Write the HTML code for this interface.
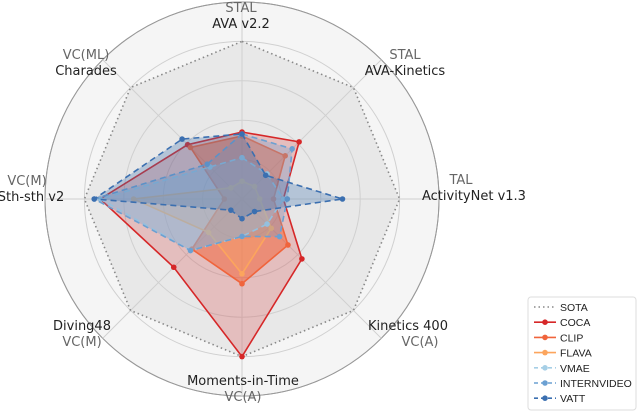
<!DOCTYPE html>
<html><head><meta charset="utf-8"><style>
body{margin:0;background:#fff;width:640px;height:413px;overflow:hidden;font-family:"Liberation Sans","DejaVu Sans",sans-serif}
</style></head><body>
<svg id="chart" width="640" height="413" viewBox="0 0 640 413" xmlns="http://www.w3.org/2000/svg" font-family="DejaVu Sans, Liberation Sans, sans-serif"></svg>
<script>
const categories=["AVA v2.2","AVA-Kinetics","ActivityNet v1.3","Kinetics 400","Moments-in-Time","Diving48","Sth-sth v2","Charades"];
const tasks=["STAL","STAL","TAL","VC(A)","VC(A)","VC(M)","VC(M)","VC(ML)"];
const seriesNames=["SOTA","COCA","CLIP","FLAVA","VMAE","INTERNVIDEO","VATT"];
const sota=[0.8,0.8,0.8,0.8,0.8,0.8,0.8,0.8];
const coca=[0.34,0.41,0.21,0.43,0.8,0.49,0.72,0.39];
const clip=[0.32,0.31,0.16,0.33,0.43,0.36,0.09,0.37];
const flava=[0.09,0.09,0.09,0.21,0.38,0.24,0.55,0.08];
const vmae=[0.21,0.18,0.21,0.18,0.19,0.37,0.72,0.23];
const internvideo=[0.33,0.36,0.23,0.27,0.19,0.37,0.75,0.25];
const vatt=[0.33,0.17,0.51,0.09,0.1,0.08,0.75,0.43];
const ringTicks=[0.2,0.4,0.6,0.8,1.0];

const NS="http://www.w3.org/2000/svg";
const svg=document.getElementById('chart');
const cx=242,cy=199,R=197;
function ang(i){return -Math.PI/2+i*2*Math.PI/categories.length;}
function px(i,v){return [cx+R*v*Math.cos(ang(i)),cy+R*v*Math.sin(ang(i))];}
function mk(tag,attrs){const e=document.createElementNS(NS,tag);for(const k in attrs)e.setAttribute(k,attrs[k]);svg.appendChild(e);return e;}
let bg=mk('circle',{cx:cx,cy:cy,r:R,fill:'#f5f5f5',stroke:'#999','stroke-width':1});


const styles=[
 {d:sota,c:'#888',fill:'#e6e6e6',fo:0.8,dash:'1.5,3',m:'none',w:1.6},
 {d:coca,c:'#d62728',fill:'#d62728',fo:0.22,dash:'',m:'circle',w:1.6},
 {d:clip,c:'#f0643c',fill:'#f0643c',fo:0.55,dash:'',m:'tri',w:1.6},
 {d:flava,c:'#fca55d',fill:'#fca55d',fo:0.3,dash:'',m:'circle',w:1.6},
 {d:vmae,c:'#a6cfe6',fill:'#a6cfe6',fo:0.35,dash:'6,4',m:'circle',w:1.6},
 {d:internvideo,c:'#6ba0d2',fill:'#6ba0d2',fo:0.3,dash:'6,4',m:'diamond',w:1.6},
 {d:vatt,c:'#3b6fb0',fill:'#3b6fb0',fo:0.3,dash:'6,4',m:'star',w:1.6}
];
function pts(d){return d.map((v,i)=>px(i,v).join(',')).join(' ');}
let sf=mk('polygon',{points:pts(sota),fill:'#e8e8e8',stroke:'none'});


ringTicks.forEach((t,k)=>{const c=mk('circle',{cx:cx,cy:cy,r:R*t,fill:'none',stroke:t==1?'#999':'#d0d0d0','stroke-width':1});

});
categories.forEach((c,i)=>{const p=px(i,1);const l=mk('line',{x1:cx,y1:cy,x2:p[0],y2:p[1],stroke:'#d0d0d0','stroke-width':1});

});
styles.forEach((s,si)=>{
 const g=document.createElementNS(NS,'g');svg.appendChild(g);
 
 
 if(si>0){const f=document.createElementNS(NS,'polygon');f.setAttribute('points',pts(s.d));f.setAttribute('fill',s.fill);f.setAttribute('fill-opacity',s.fo);g.appendChild(f);}
 const ln=document.createElementNS(NS,'polygon');ln.setAttribute('points',pts(s.d));ln.setAttribute('fill','none');ln.setAttribute('stroke',s.c);ln.setAttribute('stroke-width',s.w);if(s.dash)ln.setAttribute('stroke-dasharray',s.dash);g.appendChild(ln);
 if(s.m!=='none')s.d.forEach((v,i)=>{const p=px(i,v);const m=document.createElementNS(NS,'circle');m.setAttribute('cx',p[0]);m.setAttribute('cy',p[1]);m.setAttribute('r',2.8);m.setAttribute('fill',s.c);
 
 
 g.appendChild(m);});
});
const labelPos=[[241,28,'middle',-1],[405,75,'middle',-1],[422,200,'start',-1],[408,330,'middle',1],[243,385,'middle',1],[82,330,'middle',1],[31,201,'middle',-1],[86,75,'middle',-1]];
categories.forEach((c,i)=>{const [x,y,a,dir]=labelPos[i];
 const t=mk('text',{x:x,y:y,'text-anchor':a,'font-size':13,fill:'#222'});t.textContent=c;
 
 
 let tx=x;if(i==2)tx=461;
 const t2=mk('text',{x:tx+(i==3?12:0),y:y+dir*16,'text-anchor':'middle','font-size':13,fill:'#666'});t2.textContent=tasks[i];
 if(i==6){t2.setAttribute('x',27);}
 
 
});
const lb=mk('rect',{x:528,y:297,width:108,height:113,rx:3,fill:'#fff',stroke:'#ddd'});


styles.forEach((s,si)=>{const y=307+si*15.2;
 const l=mk('line',{x1:534,y1:y,x2:556,y2:y,stroke:s.c,'stroke-width':1.6});if(s.dash)l.setAttribute('stroke-dasharray',si==0?'1.5,3':'4,3');
 
 
 if(si>0){const m=mk('circle',{cx:545,cy:y,r:2.8,fill:s.c});
 
 }
 const t=mk('text',{x:560,y:y+4,'font-size':10.5,fill:'#222','font-family':'Liberation Sans, sans-serif'});t.textContent=seriesNames[si];
 
 
});
</script>
</body></html>
